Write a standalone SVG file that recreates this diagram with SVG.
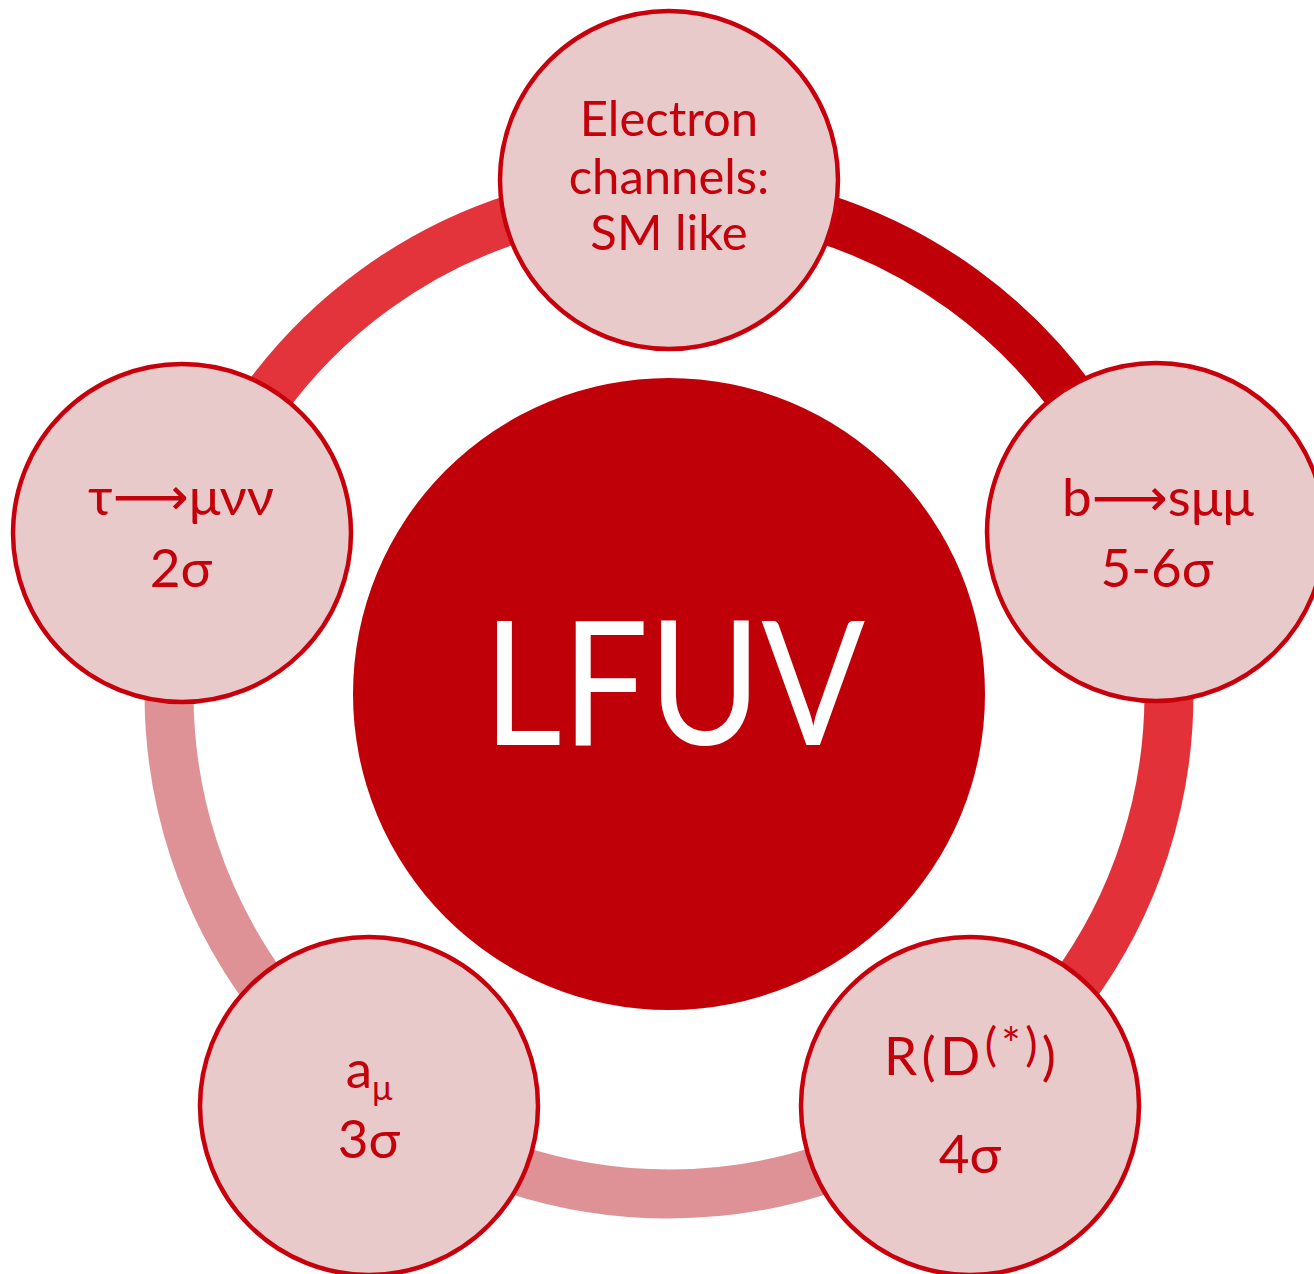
<svg xmlns="http://www.w3.org/2000/svg" width="1314" height="1274" viewBox="0 0 1314 1274">
<style>
.node{fill:#E9CACB;stroke:#C8000B;stroke-width:4.5}
.t{font-family:Lato,"Open Sans","DejaVu Sans",sans-serif;fill:#C4000B;text-anchor:middle;font-size:53px}
.s{font-size:49px}
.arc{fill:none;stroke-width:49}
</style>
<rect width="1314" height="1274" fill="#FFFFFF"/>
<g id="connectors">
<path class="arc" stroke="#BF0008" d="M669,194 A500,500 0 0 1 1144.5,539.5"/>
<path class="arc" stroke="#E3313A" d="M1144.5,539.5 A500,500 0 0 1 962.9,1098.5"/>
<path class="arc" stroke="#DF9296" d="M962.9,1098.5 A500,500 0 0 1 375.1,1098.5"/>
<path class="arc" stroke="#DF9296" d="M375.1,1098.5 A500,500 0 0 1 193.5,539.5"/>
<path class="arc" stroke="#E3333B" d="M193.5,539.5 A500,500 0 0 1 669,194"/>
</g>
<g id="center">
<circle cx="669" cy="694" r="316" fill="#C00008"/>
<text x="674" y="745" font-family="Lato,'Open Sans',sans-serif" font-size="172" fill="#FFFFFF" text-anchor="middle" textLength="382" lengthAdjust="spacingAndGlyphs">LFUV</text>
</g>
<g id="node-electron">
<circle class="node" cx="669" cy="180" r="169"/>
<text class="t s" x="669" y="136">Electron</text>
<text class="t s" x="669" y="194">channels:</text>
<text class="t s" x="669" y="250">SM like</text>
</g>
<g id="node-bsmumu">
<circle class="node" cx="1156" cy="532" r="169"/>
<text class="t" x="1158" y="516">b⟶sμμ</text>
<text class="t" x="1157" y="587">5-6σ</text>
</g>
<g id="node-rd">
<circle class="node" cx="970" cy="1106" r="169"/>
<text class="t" x="970" y="1075" textLength="172">R(D<tspan font-size="46" dy="-14">(*)</tspan><tspan dy="14">)</tspan></text>
<text class="t" x="970" y="1173">4σ</text>
</g>
<g id="node-amu">
<circle class="node" cx="369" cy="1106" r="169"/>
<text class="t" x="369" y="1088">a<tspan font-size="34" dy="12">μ</tspan></text>
<text class="t" x="369" y="1158">3σ</text>
</g>
<g id="node-tau">
<circle class="node" cx="182" cy="533" r="169"/>
<text class="t" x="181" y="515">τ⟶μνν</text>
<text class="t" x="181" y="587">2σ</text>
</g>
</svg>
